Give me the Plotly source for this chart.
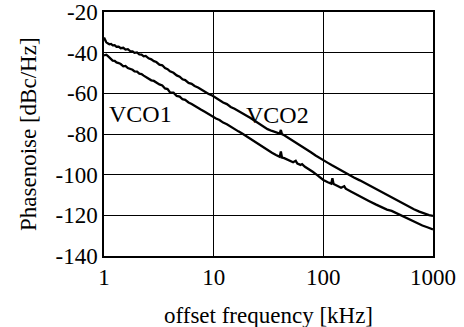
import math
import plotly.graph_objects as go

# VCO2 (upper curve)
vco2_freq = [1.0, 1.02, 1.05, 1.08, 1.12, 1.16, 1.2, 1.25, 1.3, 1.36, 1.42, 1.5, 1.57, 1.65, 1.73,
             1.82, 1.9, 2.0, 2.1, 2.2, 2.3, 2.4, 2.55, 2.7, 2.85, 3.0, 3.2, 3.4, 3.6, 3.8, 4.0, 4.3,
             4.6, 4.9, 5.2, 5.5, 5.9, 6.3, 6.7, 7.2, 7.7, 8.3, 9.0, 9.7, 10.5, 11.3, 12.2, 13.2,
             14.3, 15.5, 16.8, 18.2, 19.8, 21.5, 23.5, 25.5, 28, 31, 34, 37, 40, 41, 42, 44, 48,
             53, 58, 64, 70, 77, 85, 93, 100, 110, 120, 135, 150, 170, 190, 215, 240, 270, 300,
             340, 380, 430, 480, 540, 600, 670, 750, 830, 920, 1000]
vco2_noise = [-32.6, -33.6, -34.9, -35.4, -35.9, -35.7, -36.4, -36.3, -37.1, -37.0, -37.8, -37.6,
              -38.5, -38.3, -39.2, -39.4, -40.1, -39.9, -40.9, -41.0, -41.8, -41.6, -42.8, -43.3,
              -44.2, -44.6, -45.9, -46.2, -47.6, -48.1, -49.2, -49.9, -51.2, -51.8, -53.1, -53.5,
              -54.9, -55.3, -56.4, -57.1, -58.2, -59.0, -60.3, -61.1, -62.4, -63.2, -64.5, -65.3,
              -66.7, -67.6, -68.8, -69.6, -70.9, -72.0, -73.4, -74.6, -76.1, -77.6, -78.5, -79.3,
              -79.8, -78.0, -80.1, -80.6, -81.9, -83.2, -84.4, -86.0, -87.4, -89.0, -90.6, -92.0,
              -93.0, -94.2, -95.4, -97.0, -98.4, -100.0, -101.4, -102.8, -104.2, -105.7, -107.0,
              -108.6, -110.0, -111.5, -113.0, -114.5, -115.7, -117.0, -118.2, -119.1, -119.9, -120.3]

# VCO1 (lower curve)
vco1_freq = [1.0, 1.02, 1.05, 1.08, 1.12, 1.16, 1.2, 1.25, 1.3, 1.36, 1.42, 1.5, 1.57, 1.65, 1.73,
             1.82, 1.9, 2.0, 2.1, 2.2, 2.3, 2.4, 2.55, 2.7, 2.85, 3.0, 3.2, 3.4, 3.6, 3.8, 4.0, 4.3,
             4.6, 4.9, 5.2, 5.5, 5.9, 6.3, 6.7, 7.2, 7.7, 8.3, 9.0, 9.7, 10.5, 11.3, 12.2, 13.2,
             14.3, 15.5, 16.8, 18.2, 19.8, 21.5, 23.5, 25.5, 28, 31, 34, 37, 40, 41, 42, 44, 48,
             53, 56, 58, 62, 64, 68, 74, 80, 88, 95, 100, 110, 118, 121, 124, 135, 145, 155, 160,
             180, 200, 230, 260, 300, 340, 380, 420, 450, 500, 560, 630, 710, 800, 900, 1000]
vco1_noise = [-41.4, -41.2, -41.0, -41.6, -42.4, -43.3, -43.9, -44.0, -44.8, -45.1, -45.6, -46.7,
              -46.5, -47.6, -47.9, -48.4, -49.2, -49.3, -50.3, -50.5, -51.3, -51.9, -52.5, -53.6,
              -53.9, -54.8, -55.6, -56.1, -57.6, -57.9, -59.5, -59.7, -61.3, -61.6, -62.9, -63.2,
              -64.5, -65.2, -66.2, -67.0, -68.1, -69.1, -70.3, -71.2, -72.4, -73.1, -74.4, -75.2,
              -76.5, -77.4, -78.7, -79.8, -81.1, -82.2, -83.6, -84.9, -86.4, -88.0, -89.2, -90.3,
              -91.2, -88.6, -91.6, -91.9, -93.0, -93.9, -93.2, -94.6, -95.2, -94.8, -96.1, -97.3,
              -98.6, -100.2, -101.6, -102.6, -103.7, -104.4, -101.8, -104.6, -105.6, -106.4,
              -105.7, -106.9, -108.4, -109.8, -111.4, -112.9, -114.6, -116.0, -117.2, -117.8,
              -118.6, -119.8, -121.1, -122.5, -123.8, -125.0, -126.0, -126.9]

labels = ["VCO1", "VCO2"]
label_x = [2.15, 38]
label_y = [-70, -70.5]

x_ticks = [1, 10, 100, 1000]
y_ticks = [-140, -120, -100, -80, -60, -40, -20]

FONT = "Liberation Serif"
FS = 23

fig = go.Figure()
fig.add_trace(go.Scatter(x=vco2_freq, y=vco2_noise, mode="lines",
                         line=dict(color="black", width=2.3), name="VCO2", showlegend=False))
fig.add_trace(go.Scatter(x=vco1_freq, y=vco1_noise, mode="lines",
                         line=dict(color="black", width=2.3), name="VCO1", showlegend=False))

for t, lx, ly in zip(labels, label_x, label_y):
    fig.add_annotation(x=math.log10(lx), y=ly, xref="x", yref="y", text=t, showarrow=False,
                       font=dict(family=FONT, size=FS + 1, color="black"),
                       xanchor="center", yanchor="middle")

# axis titles
fig.add_annotation(x=0.5, y=0, xref="paper", yref="paper", yshift=-59,
                   text="offset frequency [kHz]", showarrow=False,
                   font=dict(family=FONT, size=FS, color="black"),
                   xanchor="center", yanchor="middle")
fig.add_annotation(x=0, y=0.5, xref="paper", yref="paper", xshift=-76,
                   text="Phasenoise [dBc/Hz]", showarrow=False, textangle=-90,
                   font=dict(family=FONT, size=FS, color="black"),
                   xanchor="center", yanchor="middle")

fig.update_layout(
    width=464, height=327,
    margin=dict(l=104, r=31, t=12, b=71),
    paper_bgcolor="white", plot_bgcolor="white",
    font=dict(family=FONT, size=FS, color="black"),
    hovermode=False,
    xaxis=dict(type="log", range=[0, 3], tickvals=x_ticks, ticktext=[str(v) for v in x_ticks],
               showgrid=True, gridcolor="black", gridwidth=1,
               showline=True, linecolor="black", linewidth=1.5, mirror=True,
               ticks="", zeroline=False, automargin=False, ticklabeloverflow="allow",
               tickfont=dict(family=FONT, size=FS)),
    yaxis=dict(range=[-140, -20], tickvals=y_ticks, ticktext=[str(v) for v in y_ticks],
               showgrid=True, gridcolor="black", gridwidth=1,
               showline=True, linecolor="black", linewidth=1.5, mirror=True,
               ticks="", zeroline=False, automargin=False, ticklabeloverflow="allow",
               tickfont=dict(family=FONT, size=FS)),
)

fig.write_html("out.html", config={"displayModeBar": False},
               post_script="document.body.style.margin='0';")
